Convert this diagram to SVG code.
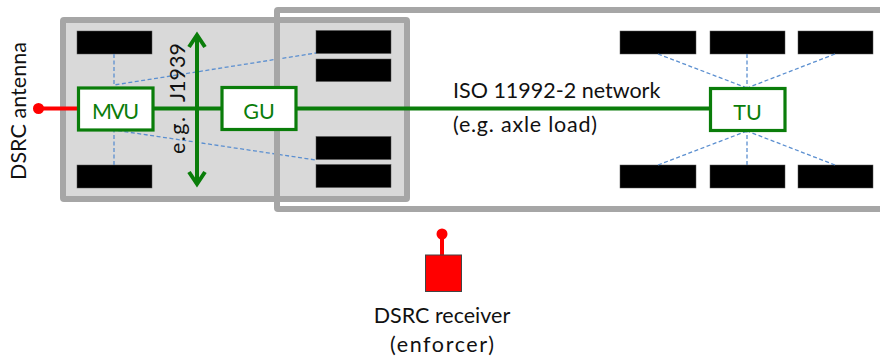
<svg xmlns="http://www.w3.org/2000/svg" width="880" height="359" viewBox="0 0 880 359">
<style>
text{font-family:"Lato","Open Sans","Liberation Sans",sans-serif;font-size:21.5px;fill:#111}
.w{fill:#000;stroke:#555;stroke-width:.5}
.u{fill:#fff;stroke:#0a7d0a;stroke-width:3.2}
.ul{fill:#0a7d0a;text-anchor:middle;font-size:21.5px}
.g{stroke:#0a7d0a;stroke-width:4;fill:none}
.d{stroke:#5b8fd0;stroke-width:1.3;stroke-dasharray:4 2.5;fill:none}
.r{stroke:#f00;stroke-width:4;fill:none}
</style>
<rect id="tractor" x="63" y="20" width="344" height="179" rx="1" fill="#d9d9d9" stroke="#a6a6a6" stroke-width="6"/>
<g id="wheels">
<rect class="w" x="77" y="31" width="75" height="23"/><rect class="w" x="77" y="165" width="75" height="23"/>
<rect class="w" x="316" y="30.500" width="75" height="23"/><rect class="w" x="316" y="59" width="75" height="22.500"/>
<rect class="w" x="316" y="136.500" width="75" height="23"/><rect class="w" x="316" y="164.500" width="75" height="23"/>
<rect class="w" x="620" y="31" width="76" height="23"/><rect class="w" x="710" y="31" width="75" height="23"/><rect class="w" x="798" y="31" width="75" height="23"/>
<rect class="w" x="620" y="165" width="76" height="23"/><rect class="w" x="710" y="165" width="75" height="23"/><rect class="w" x="798" y="165" width="75" height="23"/>
</g>
<g id="connectors">
<path class="d" d="M114 54V85L316 53M114 165V130L316 160"/>
<path class="d" d="M658 54L747 88M747 54V88M835 54L747 88M658 165L747 131M747 165V131M835 165L747 131"/>
<path class="g" d="M153 108.500H221M296 108.500H710"/>
<path class="g" d="M197 35V184M189 47L197 35L205 47M189 172L197 184L205 172"/>
<path class="r" d="M40 108.500H78M442 235V255"/>
<circle cx="38.500" cy="108.500" r="5.500" fill="#f00"/>
<circle cx="442" cy="234" r="5.500" fill="#f00"/>
</g>
<rect id="trailer" x="277" y="10" width="620" height="199" rx="1" fill="none" stroke="#a6a6a6" stroke-width="6"/>
<g id="MVU"><rect class="u" x="78.500" y="88" width="74.500" height="42"/><text class="ul" x="115.500" y="118.500" textLength="47">MVU</text></g>
<g id="GU"><rect class="u" x="222" y="87.500" width="74" height="42"/><text class="ul" x="259" y="118.500">GU</text></g>
<g id="TU"><rect class="u" x="710.500" y="88.500" width="74.500" height="42"/><text class="ul" x="747.500" y="120">TU</text></g>
<g id="enforcer"><rect x="425.500" y="255" width="36" height="36.500" fill="#f00" stroke="#444" stroke-width="1"/>
<text x="442" y="323" text-anchor="middle">DSRC receiver</text><text x="442" y="352" text-anchor="middle" textLength="104">(enforcer)</text></g>
<text x="453" y="98">ISO 11992-2 network</text>
<text x="453" y="132" textLength="144">(e.g. axle load)</text>
<text transform="translate(26 180) rotate(-90)" textLength="138">DSRC antenna</text>
<text transform="translate(185 154) rotate(-90)" textLength="37">e.g.</text>
<text transform="translate(185 102) rotate(-90)">J1939</text>
</svg>
